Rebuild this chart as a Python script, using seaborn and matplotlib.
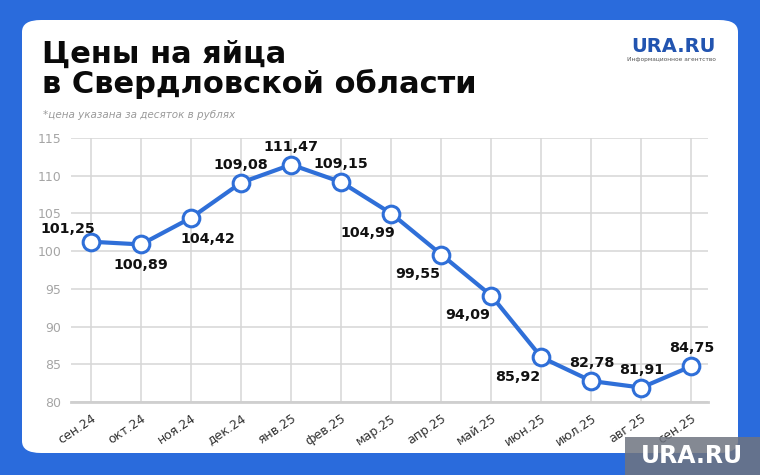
import pandas as pd
import numpy as np
import matplotlib.pyplot as plt
import seaborn as sns
from matplotlib.patches import FancyBboxPatch, Rectangle

# данные: цены на яйца (за десяток, руб.)
months = ['сен.24', 'окт.24', 'ноя.24', 'дек.24', 'янв.25', 'фев.25', 'мар.25',
          'апр.25', 'май.25', 'июн.25', 'июл.25', 'авг.25', 'сен.25']
prices = [101.25, 100.89, 104.42, 109.08, 111.47, 109.15, 104.99,
          99.55, 94.09, 85.92, 82.78, 81.91, 84.75]
label_pos = ['ul', 'b', 'br', 'a', 'a', 'a', 'bl', 'bl', 'bl', 'bl', 'a', 'a', 'a']
y_ticks = [80, 85, 90, 95, 100, 105, 110, 115]

BLUE_BG = '#2a6bdc'
LINE = '#2f6fd8'

sns.set_theme(style='white')
plt.rcParams['font.family'] = ['DejaVu Sans']

df = pd.DataFrame({'x': np.arange(len(months)), 'price': prices})

fig = plt.figure(figsize=(7.6, 4.75), dpi=100)
fig.patch.set_facecolor(BLUE_BG)

# белая карточка
card = FancyBboxPatch((22 / 760, 22 / 475), (738 - 22) / 760, (455 - 22) / 475,
                      boxstyle='round,pad=0,rounding_size=0.025',
                      transform=fig.transFigure, facecolor='white', edgecolor='none', zorder=-5)
fig.patches.append(card)

ax = fig.add_axes([71 / 760, 1 - 402 / 475, (708 - 71) / 760, (402 - 138) / 475])
ax.set_facecolor('white')

sns.lineplot(data=df, x='x', y='price', ax=ax, color=LINE, lw=3,
             marker='o', markersize=12, markerfacecolor='white',
             markeredgecolor=LINE, markeredgewidth=2.2, zorder=5)

# смещения подписей в пунктах
offsets = {'ul': (-17, 9), 'b': (0, -15), 'br': (12, -15), 'a': (0, 13), 'bl': (-17, -14)}
for i, (v, p) in enumerate(zip(prices, label_pos)):
    dx, dy = offsets[p]
    ax.annotate(f'{v:.2f}'.replace('.', ','), (i, v), xytext=(dx, dy),
                textcoords='offset points', ha='center', va='center',
                fontsize=10.3, fontweight='bold', color='#111111', zorder=6)

ax.set_xlim(-0.4, 12.33)
ax.set_ylim(80, 115)
ax.set_yticks(y_ticks)
ax.set_xticks(range(len(months)))
ax.set_xticklabels(months, rotation=34, ha='right', rotation_mode='anchor')
ax.grid(True, color='#d6d6d6', lw=1.1)
for s in ['top', 'right', 'left']:
    ax.spines[s].set_visible(False)
ax.spines['bottom'].set_color('#cfcfcf')
ax.spines['bottom'].set_linewidth(2)
ax.tick_params(axis='both', length=0, labelsize=9, labelcolor='#a5a5a5')
ax.tick_params(axis='x', pad=7, labelcolor='#333333')
ax.tick_params(axis='y', pad=7)
ax.set_xlabel('')
ax.set_ylabel('')

# заголовок и подпись
fig.text(42 / 760, 1 - 93 / 475, 'Цены на яйца\nв Свердловской области',
         fontsize=22, fontweight='bold', color='#0a0a0a', va='baseline', linespacing=1.0)
fig.text(43 / 760, 1 - 115 / 475, '*цена указана за десяток в рублях',
         fontsize=7.5, style='italic', color='#9a9a9a', va='center')

# логотип
fig.text(716 / 760, 1 - 47 / 475, 'URA.RU', fontsize=14, fontweight='bold',
         color='#2254b0', ha='right', va='center')
fig.text(716 / 760, 1 - 60 / 475, 'Информационное агентство', fontsize=4.2,
         color='#555555', ha='right', va='center')

# водяной знак
fig.patches.append(Rectangle((625 / 760, 0), 135 / 760, 38 / 475, transform=fig.transFigure,
                             facecolor='#6f7480', alpha=0.85, edgecolor='none', zorder=10))
fig.text(692 / 760, 19 / 475, 'URA.RU', fontsize=17, fontweight='bold', color='white',
         ha='center', va='center', zorder=11)

fig.savefig('out.png', dpi=100, facecolor=fig.get_facecolor())
